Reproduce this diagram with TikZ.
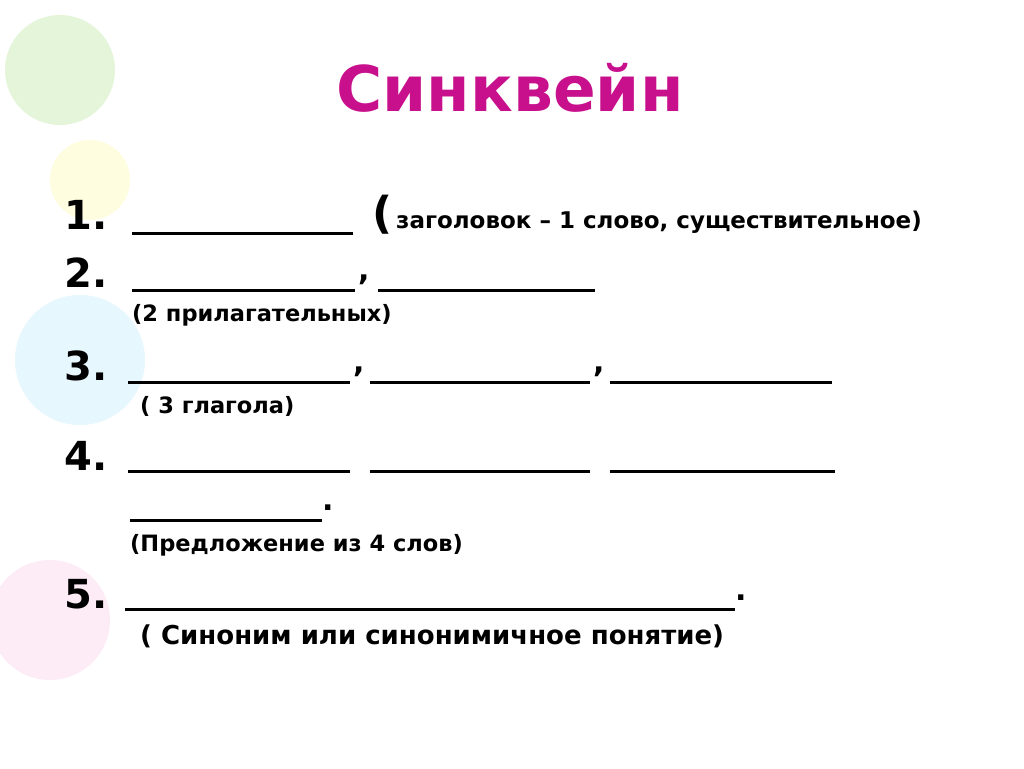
\documentclass[tikz,border=0pt]{standalone}
\usepackage{fontspec}
\setmainfont{DejaVu Sans}
\definecolor{mag}{HTML}{C8108C}
\begin{document}
\begin{tikzpicture}[x=1pt,y=-1pt,
  num/.style={anchor=west,font=\fontsize{40}{40}\selectfont\bfseries,inner sep=0},
  sub/.style={anchor=west,font=\fontsize{22.5}{22.5}\selectfont\bfseries,inner sep=0},
  blank/.style={line width=3pt}]
\useasboundingbox (0,0) rectangle (1024,768);
\fill[white] (0,0) rectangle (1024,768);
% faint balloons
\fill[yellow!30!green!15] (60,70) circle (55);
\fill[cyan!10] (80,360) circle (65);
\fill[magenta!8] (50,620) circle (60);
\fill[yellow!12] (90,180) circle (40);
% title
\node[font=\fontsize{63}{63}\selectfont\bfseries,text=mag] (title) at (510,88) {Синквейн};
% row 1
\node[num] (n1) at (64,215) {1.};
\draw[blank] (132,233) coordinate (a1) -- (353,233) coordinate (b1);
\node[anchor=west,inner sep=0,font=\fontsize{44}{44}\selectfont\bfseries] (p1) at (372,215) {(};
\node[sub,font=\fontsize{23}{23}\selectfont\bfseries] (t1) at (396,222) {заголовок – 1 слово, существительное)};
% row 2
\node[num] (n2) at (64,273) {2.};
\draw[blank] (132,290) coordinate (a2) -- (355,290) coordinate (b2);
\node[num,font=\fontsize{30}{30}\selectfont\bfseries] (c2) at (358,280) {,};
\draw[blank] (378,290) coordinate (a2b) -- (595,290) coordinate (b2b);
\node[sub] (t2) at (132,315) {(2 прилагательных)};
% row 3
\node[num] (n3) at (64,366) {3.};
\draw[blank] (128,382) coordinate (a3) -- (350,382) coordinate (b3);
\node[num,font=\fontsize{30}{30}\selectfont\bfseries] (c3) at (353,372) {,};
\draw[blank] (370,382) coordinate (a3b) -- (590,382) coordinate (b3b);
\node[num,font=\fontsize{30}{30}\selectfont\bfseries] (c3b) at (593,372) {,};
\draw[blank] (610,382) coordinate (a3c) -- (832,382) coordinate (b3c);
\node[sub] (t3) at (140,406) {( 3 глагола)};
% row 4
\node[num] (n4) at (64,456) {4.};
\draw[blank] (128,471) coordinate (a4) -- (350,471) coordinate (b4);
\draw[blank] (370,471) coordinate (a4b) -- (590,471) coordinate (b4b);
\draw[blank] (610,471) coordinate (a4c) -- (835,471) coordinate (b4c);
\draw[blank] (130,520) coordinate (a4d) -- (322,520) coordinate (b4d);
\node[num,font=\fontsize{30}{30}\selectfont\bfseries] (d4) at (322,508) {.};
\node[sub] (t4) at (130,545) {(Предложение из 4 слов)};
\node[num] (n5) at (64,594) {5.};
\draw[blank] (125,609) coordinate (a5) -- (735,609) coordinate (b5);
\node[num,font=\fontsize{30}{30}\selectfont\bfseries] (d5) at (735,598) {.};
\node[sub,font=\fontsize{26}{26}\selectfont\bfseries] (t5) at (140,636) {( Синоним или синонимичное понятие)};
\end{tikzpicture}
\end{document}
